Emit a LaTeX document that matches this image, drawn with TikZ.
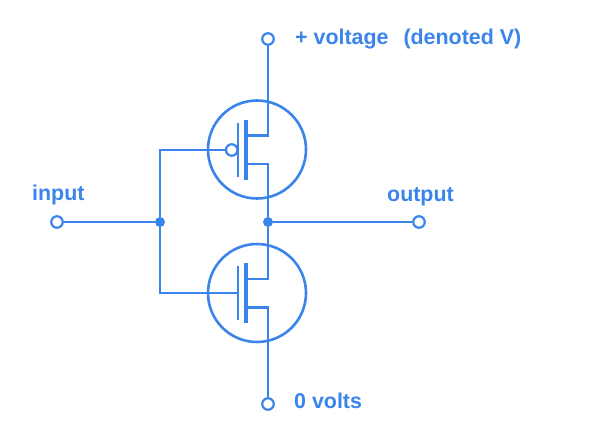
\documentclass[tikz,border=0pt]{standalone}
\usepackage{fontspec}
\setmainfont{Liberation Sans}
\definecolor{mosblue}{HTML}{3B84EC}
\tikzset{
  wire/.style={draw=mosblue,line width=2.3pt},
  thinplate/.style={draw=mosblue,line width=2pt},
  thickplate/.style={draw=mosblue,line width=4pt},
  ring/.style={circle,draw=mosblue,line width=2.6pt,fill=white,minimum size=98pt,inner sep=0pt},
  terminal/.style={circle,draw=mosblue,line width=2.2pt,fill=white,minimum size=11.5pt,inner sep=0pt},
  bubble/.style={circle,draw=mosblue,line width=2.2pt,fill=white,minimum size=11.5pt,inner sep=0pt},
  joint/.style={circle,fill=mosblue,minimum size=10pt,inner sep=0pt},
  lbl/.style={text=mosblue,font=\fontsize{21.4pt}{23pt}\selectfont\bfseries,inner sep=0pt,anchor=base west}
}
\begin{document}
\begin{tikzpicture}[x=1pt,y=-1pt]
\useasboundingbox (0,0) rectangle (596,440);
\node[ring] (upper) at (257,149.5) {};
\node[ring] (lower) at (257,293) {};
\node[terminal] (vdd) at (268,39) {};
\node[terminal] (gnd) at (268,404) {};
\node[terminal] (in) at (57,222) {};
\node[terminal] (out) at (419,222) {};
\node[joint] (jin) at (160,222) {};
\node[joint] (jout) at (268,222) {};
\coordinate (ud1) at (245.5,135.5);
\coordinate (ud2) at (268,135.5);
\coordinate (us1) at (245.5,164);
\coordinate (us2) at (268,164);
\coordinate (ugt) at (160,150);
\coordinate (lgt) at (160,293);
\coordinate (lgate) at (237.7,293);
\coordinate (ld1) at (245.5,279);
\coordinate (ld2) at (268,279);
\coordinate (ls1) at (245.5,307.5);
\coordinate (ls2) at (268,307.5);
\coordinate (utp1) at (237.7,122.5);
\coordinate (utp2) at (237.7,177);
\coordinate (uth1) at (245.5,120);
\coordinate (uth2) at (245.5,180);
\coordinate (ltp1) at (237.7,266);
\coordinate (ltp2) at (237.7,320);
\coordinate (lth1) at (245.5,263);
\coordinate (lth2) at (245.5,323);
\node[bubble] (ub) at (231.7,150) {};
\draw[wire] (vdd) -- (ud2) -- (ud1);
\draw[wire] (us1) -- (us2) -- (jout);
\draw[wire] (jout) -- (ld2) -- (ld1);
\draw[wire] (ls1) -- (ls2) -- (gnd);
\draw[wire] (in) -- (jin);
\draw[wire] (jout) -- (out);
\draw[wire] (jin) -- (ugt) -- (ub);
\draw[wire] (jin) -- (lgt) -- (lgate);
\draw[thinplate] (utp1) -- (utp2);
\draw[thickplate] (uth1) -- (uth2);
\draw[thinplate] (ltp1) -- (ltp2);
\draw[thickplate] (lth1) -- (lth2);
\node[lbl] (vl) at (295,44) {+ voltage\hspace{0.7em}(denoted V)};
\node[lbl] (il) at (32,200) {input};
\node[lbl] (ol) at (387,201) {output};
\node[lbl] (zl) at (294,408) {0 volts};
\end{tikzpicture}
\end{document}
